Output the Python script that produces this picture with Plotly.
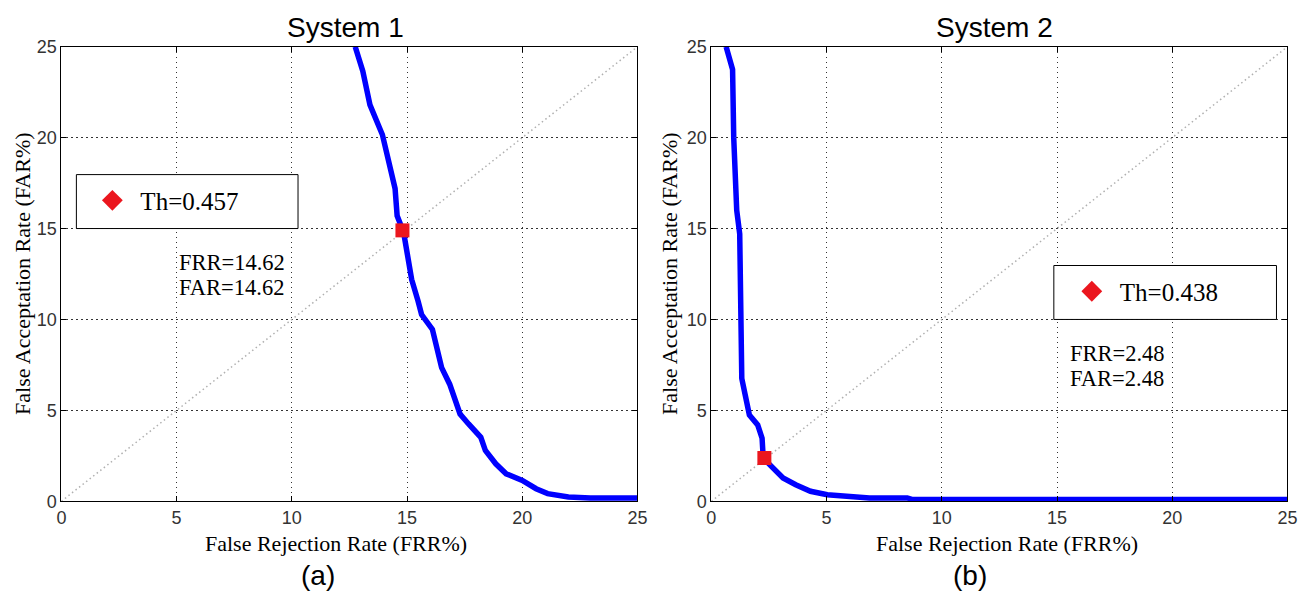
import plotly.graph_objects as go

# ---------------- data ----------------
s1_frr = [12.75, 13.08, 13.39, 13.93, 14.48, 14.57, 14.85, 15.2, 15.48, 15.63, 16.1, 16.5,
          16.85, 17.3, 17.67, 18.2, 18.4, 18.85, 19.3, 20.0, 20.6, 21.1, 22.0, 22.95, 25.0]
s1_far = [25.0, 23.65, 21.8, 20.16, 17.2, 15.7, 14.8, 12.2, 11.0, 10.27, 9.45, 7.35,
          6.44, 4.8, 4.25, 3.52, 2.79, 2.06, 1.51, 1.15, 0.69, 0.42, 0.24, 0.18, 0.18]

s2_frr = [0.64, 0.92, 0.97, 1.1, 1.23, 1.28, 1.32, 1.47, 1.65, 2.01, 2.2, 2.25, 2.66,
          3.11, 3.66, 4.3, 5.03, 5.95, 6.86, 8.5, 8.7, 25.0]
s2_far = [25.0, 23.75, 20.0, 16.0, 14.7, 10.0, 6.75, 5.84, 4.74, 4.2, 3.47, 2.37, 1.82,
          1.28, 0.91, 0.55, 0.36, 0.27, 0.18, 0.18, 0.1, 0.1]

eer1 = (14.8, 14.9)
eer2 = (2.3, 2.38)
diag = [0, 25]
ticks = [0, 5, 10, 15, 20, 25]

titles = ["System 1", "System 2"]
legend_names = ["Th=0.457", "Th=0.438"]
eer_text1 = ["FRR=14.62", "FAR=14.62"]
eer_text2 = ["FRR=2.48", "FAR=2.48"]
panel_labels = ["(a)", "(b)"]
xlabel = "False Rejection Rate (FRR%)"
ylabel = "False Acceptation Rate (FAR%)"

# ---------------- figure ----------------
OFF = 8
W, H = 1313 - 2 * OFF, 604 - 2 * OFF

def px(x):
    t = (x - 3.6) / 0.99 - OFF
    return t / W

def py(y):
    t = (y - 8.5) / 0.967 - OFF
    return 1 - t / H

BLUE = "#0000ff"
RED = "rgb(235,22,30)"
SERIF = "Liberation Serif"
SANS = "Liberation Sans"

fig = go.Figure()

panels = [
    dict(frr=s1_frr, far=s1_far, eer=eer1, xa="x", ya="y", leg="legend", name=legend_names[0]),
    dict(frr=s2_frr, far=s2_far, eer=eer2, xa="x2", ya="y2", leg="legend2", name=legend_names[1]),
]

for p in panels:
    fig.add_trace(go.Scatter(x=diag, y=diag, mode="lines", xaxis=p["xa"], yaxis=p["ya"],
                             line=dict(color="#b0b0b0", width=1.5, dash="1.5px,3px"),
                             showlegend=False))
    fig.add_trace(go.Scatter(x=p["frr"], y=p["far"], mode="lines", xaxis=p["xa"], yaxis=p["ya"],
                             line=dict(color=BLUE, width=5.5), showlegend=False))
    fig.add_trace(go.Scatter(x=[p["eer"][0]], y=[p["eer"][1]], mode="markers",
                             xaxis=p["xa"], yaxis=p["ya"], cliponaxis=False,
                             marker=dict(symbol="square", size=14, color=RED), showlegend=False))
    fig.add_trace(go.Scatter(x=[None], y=[None], mode="markers", xaxis=p["xa"], yaxis=p["ya"],
                             name=p["name"], legend=p["leg"],
                             marker=dict(symbol="diamond", size=16, color=RED)))

xdoms = [[px(60), px(637)], [px(711), px(1288)]]
ydom = [py(500), py(45)]

axis_common = dict(range=[0, 25], tickvals=ticks, showgrid=True, gridcolor="#333333",
                   griddash="1.5px,3.5px", gridwidth=1.3, showline=True, linecolor="black",
                   linewidth=1, mirror="ticks", ticks="inside", ticklen=5, tickcolor="black",
                   zeroline=False, tickfont=dict(family=SANS, size=18, color="#333333"))

leg_common = dict(xanchor="left", yanchor="middle", bgcolor="rgba(0,0,0,0)", borderwidth=0,
                  itemwidth=46, font=dict(family=SERIF, size=25, color="black"))

fig.update_layout(
    width=W, height=H, margin=dict(l=0, r=0, t=0, b=0),
    plot_bgcolor="white", paper_bgcolor="white",
    xaxis=dict(domain=xdoms[0], anchor="y", **axis_common),
    yaxis=dict(domain=ydom, anchor="x", **axis_common),
    xaxis2=dict(domain=xdoms[1], anchor="y2", **axis_common),
    yaxis2=dict(domain=ydom, anchor="x2", **axis_common),
    legend=dict(x=px(83), y=py(199), **leg_common),
    legend2=dict(x=px(1064), y=py(290), **leg_common),
)

# legend boxes
for (x0, y0, x1, y1) in [(75, 173, 297, 227), (1054, 264, 1277, 318)]:
    fig.add_shape(type="rect", xref="paper", yref="paper", x0=px(x0), x1=px(x1),
                  y0=py(y1), y1=py(y0), line=dict(color="black", width=1),
                  fillcolor="white", layer="above")

ann = []
for t, xc in zip(titles, [345, 995]):
    ann.append(dict(text=t, x=px(xc), y=1 - 10 / H, font=dict(family=SANS, size=28, color="black")))
for t, xc in zip(panel_labels, [317, 970]):
    ann.append(dict(text=t, x=px(xc), y=1 - 577 / H, font=dict(family=SANS, size=28, color="black")))
for xc in [335, 1007]:
    ann.append(dict(text=xlabel, x=px(xc), y=py(542), font=dict(family=SERIF, size=22, color="black")))
for xc in [19, 669]:
    ann.append(dict(text=ylabel, x=max(px(xc), 9.5 / W), y=py(272), textangle=-90,
                    font=dict(family=SERIF, size=22, color="black")))
for t, yc in zip(eer_text1, [260.5, 286]):
    ann.append(dict(text=t, x=px(176), y=py(yc), xanchor="left",
                    font=dict(family=SERIF, size=22.5, color="black")))
for t, yc in zip(eer_text2, [352, 377.5]):
    ann.append(dict(text=t, x=px(1068), y=py(yc), xanchor="left",
                    font=dict(family=SERIF, size=22.5, color="black")))

for a in ann:
    a.setdefault("xanchor", "center")
    a.update(xref="paper", yref="paper", yanchor="middle", showarrow=False)
fig.update_layout(annotations=ann)

fig.write_html("out.html")
